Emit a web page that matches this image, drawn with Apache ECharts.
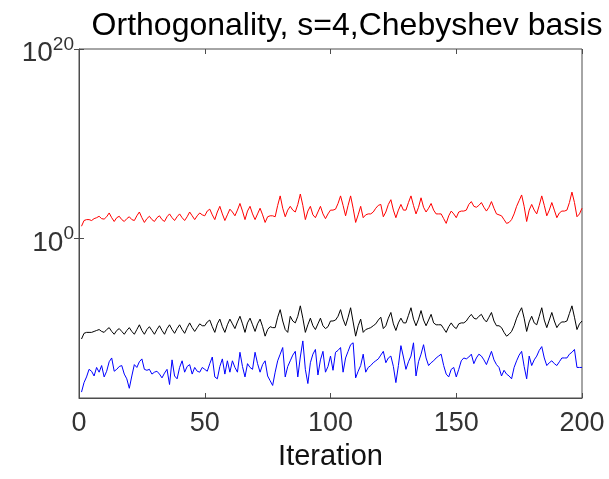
<!DOCTYPE html>
<html>
<head>
<meta charset="utf-8">
<script src="https://cdn.jsdelivr.net/npm/echarts@6/dist/echarts.min.js"></script>
<style>
html,body{margin:0;padding:0;background:#fff;}
#chart{width:609px;height:479px;}
</style>
</head>
<body>
<div id="chart"></div>
<script>
// Chart text
const titleText = 'Orthogonality, s=4,Chebyshev basis';
const xAxisName = 'Iteration';
const xTicks = [0, 50, 100, 150, 200];
const yTickExponents = [0, 20];

// Series values, stored as log10 of the plotted value
const redLog10 = [
 1.3, 1.9, 2.0, 2.0, 1.9, 2.1, 2.2, 2.35, 2.1, 2.05,
 2.3, 2.7, 2.2, 1.8, 2.2, 2.35, 2.0, 1.8, 2.1, 2.3,
 2.0, 1.9, 2.4, 2.8, 2.2, 1.7, 2.1, 2.35, 2.0, 1.8,
 2.2, 2.4, 2.0, 1.8, 2.3, 2.6, 2.2, 1.9, 2.3, 2.6,
 2.2, 1.9, 2.3, 2.8, 2.4, 2.0, 2.4, 2.7, 2.5, 2.4,
 2.9, 3.1, 2.5, 2.0, 2.8, 3.4, 2.6, 1.9, 2.5, 3.1,
 2.8, 2.4, 3.0, 3.7, 2.9, 2.0, 2.9, 3.4, 2.6, 2.0,
 2.6, 3.2, 2.5, 1.7, 2.3, 2.4, 2.4, 2.3, 3.5, 4.5,
 3.2, 2.3, 3.0, 3.4, 3.0, 2.8, 3.6, 4.7, 3.5, 2.0,
 2.9, 3.4, 2.5, 2.2, 2.8, 3.4, 2.6, 2.1, 2.6, 3.0,
 3.0, 3.1, 3.7, 4.5, 3.5, 2.4, 3.5, 4.5, 3.2, 1.7,
 2.5, 3.4, 2.2, 2.5, 2.6, 2.6, 2.8, 3.2, 3.5, 3.6,
 2.3, 2.8, 3.6, 4.1, 3.0, 2.2, 3.0, 3.6, 3.0, 3.0,
 3.8, 4.5, 3.5, 2.6, 3.3, 4.3, 3.3, 2.8, 3.2, 3.7,
 3.0, 2.6, 2.6, 2.6, 2.1, 1.6, 2.4, 2.9, 2.6, 2.2,
 2.8, 2.9, 2.9, 3.0, 3.6, 3.9, 3.4, 3.3, 3.5, 3.8,
 3.3, 2.9, 3.3, 3.9, 3.2, 2.6, 2.5, 2.4, 2.0, 1.6,
 1.7, 2.0, 2.6, 3.4, 4.0, 4.6, 3.4, 1.8, 3.0, 3.6,
 3.0, 2.6, 3.5, 4.5, 3.5, 2.4, 3.0, 3.8, 3.0, 2.2,
 2.7, 2.9, 2.9, 3.0, 3.8, 4.9, 3.8, 2.3, 2.6, 3.2
];
const blackLog10 = [
 -10.6, -10.0, -9.9, -9.9, -9.9, -9.8, -9.7, -9.6, -9.8, -9.9,
 -9.6, -9.4, -9.8, -10.1, -9.7, -9.5, -9.8, -10.1, -9.7, -9.4,
 -9.8, -10.1, -9.6, -9.1, -9.7, -10.1, -9.6, -9.3, -9.7, -10.1,
 -9.6, -9.2, -9.7, -10.1, -9.5, -9.1, -9.6, -10.0, -9.5, -9.1,
 -9.6, -10.0, -9.4, -8.9, -9.4, -9.8, -9.4, -9.0, -9.2, -9.2,
 -8.8, -8.6, -9.3, -9.9, -9.0, -8.5, -9.3, -9.9, -9.1, -8.5,
 -9.0, -9.5, -8.8, -8.2, -9.0, -9.9, -8.9, -8.4, -9.1, -9.8,
 -9.0, -8.5, -9.3, -10.3, -9.6, -9.3, -9.4, -9.4, -8.3, -7.5,
 -8.7, -9.6, -9.9, -8.2, -8.7, -8.9, -8.2, -7.1, -8.4, -9.9,
 -9.1, -8.4, -9.2, -9.6, -9.0, -8.4, -9.2, -9.5, -9.3, -8.7,
 -8.7, -8.6, -8.2, -7.5, -8.5, -9.2, -8.3, -7.3, -8.8, -10.3,
 -9.2, -8.5, -9.9, -9.6, -9.5, -9.4, -9.2, -9.0, -8.6, -8.3,
 -9.5, -9.2, -8.4, -7.8, -9.0, -9.7, -8.9, -8.4, -8.9, -8.9,
 -8.1, -7.3, -8.5, -9.2, -8.5, -7.6, -8.6, -9.2, -8.6, -8.0,
 -8.9, -9.1, -9.1, -9.1, -9.5, -9.9, -9.3, -8.9, -9.3, -9.5,
 -9.0, -8.9, -8.9, -8.7, -8.3, -8.0, -8.4, -8.5, -8.2, -8.0,
 -8.5, -8.8, -8.3, -7.8, -8.7, -9.2, -9.2, -9.4, -9.9, -10.3,
 -10.1, -9.8, -9.2, -8.4, -7.8, -7.3, -8.4, -9.8, -8.8, -8.2,
 -8.9, -9.1, -8.2, -7.3, -8.6, -9.4, -8.6, -7.8, -8.7, -9.4,
 -9.0, -8.8, -8.8, -8.7, -7.9, -7.1, -8.3, -9.6, -9.0, -8.7
];
const blueLog10 = [
 -16.2, -15.2, -14.6, -13.8, -14.0, -14.5, -13.6, -14.1, -13.4, -14.6,
 -14.0, -13.0, -12.6, -14.0, -13.8, -13.5, -13.4, -14.3, -14.8, -15.8,
 -14.5, -13.3, -13.6, -13.0, -12.7, -13.8, -13.9, -13.8, -14.3, -14.1,
 -14.0, -14.3, -14.7, -14.2, -13.8, -15.4, -12.8, -14.5, -14.8, -13.6,
 -12.9, -14.1, -13.5, -13.3, -14.3, -13.6, -14.0, -14.1, -13.6, -13.8,
 -14.0, -13.2, -12.5, -14.6, -14.8, -13.5, -12.7, -14.3, -12.9, -14.1,
 -12.9, -13.6, -14.1, -12.0, -13.5, -14.6, -13.2, -13.6, -13.8, -12.0,
 -13.2, -14.1, -13.3, -12.9, -14.5, -15.0, -15.5, -14.1, -12.9, -12.2,
 -11.5, -14.6, -13.5, -12.9, -12.3, -11.9, -14.6, -12.5, -10.8, -13.8,
 -15.3, -13.1, -12.2, -11.7, -14.4, -12.8, -11.9, -14.1, -13.5, -12.4,
 -13.9, -12.0, -11.8, -11.5, -14.1, -12.6, -11.9, -11.2, -11.0, -14.7,
 -14.0, -13.4, -12.2, -14.1, -13.6, -13.4, -13.1, -12.9, -12.7, -12.3,
 -11.9, -13.1, -12.6, -12.4, -13.5, -15.2, -13.4, -11.3, -12.5, -13.8,
 -13.0, -12.4, -11.0, -14.5, -13.0, -12.2, -11.2, -12.6, -13.4, -13.1,
 -12.9, -12.6, -12.4, -12.2, -13.4, -14.3, -14.6, -13.8, -13.6, -14.6,
 -13.8, -12.9, -12.6, -12.7, -12.5, -12.2, -13.2, -12.6, -12.2, -12.4,
 -12.8, -13.3, -12.6, -11.9, -12.8, -13.3, -13.6, -14.5, -13.9, -14.3,
 -14.5, -14.8, -13.6, -12.9, -12.3, -11.9, -13.5, -14.8, -12.4, -13.4,
 -12.8, -12.4, -11.8, -11.4, -12.6, -13.4, -13.1, -12.9, -13.2, -13.4,
 -13.0, -12.6, -12.6, -12.6, -12.2, -12.0, -11.7, -13.6, -13.6, -13.6
];

const yMin = 1.5e-17;
const yMax = 1e20;

function toPoints(logs) {
  return logs.map((e, i) => [i + 1, Math.pow(10, e)]);
}

const axisColor = '#4d4d4d';
const labelColor = '#333333';
const fontFamily = '"Liberation Sans", Arial, Helvetica, sans-serif';
const yTickValues = yTickExponents.map(e => Math.pow(10, e));

const yLabel = {
  show: true,
  customValues: yTickValues,
  margin: 5,
  formatter: function (v) {
    const e = Math.round(Math.log10(v));
    return '{b|10}{s|' + e + '}';
  },
  rich: {
    b: { fontSize: 28, lineHeight: 28, color: labelColor, fontFamily: fontFamily, padding: [9, 0, 0, 0] },
    s: { fontSize: 19, lineHeight: 19, color: labelColor, fontFamily: fontFamily, verticalAlign: 'top' }
  }
};

const chart = echarts.init(document.getElementById('chart'), null, { renderer: 'canvas' });
chart.setOption({
  animation: false,
  backgroundColor: '#ffffff',
  title: {
    text: titleText,
    left: 342,
    textAlign: 'center',
    top: 5,
    textStyle: { fontSize: 32, fontWeight: 'normal', color: '#000000', fontFamily: fontFamily }
  },
  grid: {
    left: 79, right: 27, top: 49, bottom: 81,
    show: true, borderColor: axisColor, borderWidth: 1, backgroundColor: 'transparent'
  },
  xAxis: [{
    type: 'value', min: 0, max: 200, interval: 50, position: 'bottom',
    name: xAxisName, nameLocation: 'middle', nameGap: 44,
    nameTextStyle: { fontSize: 29, color: '#111111', fontFamily: fontFamily },
    axisLine: { show: true, lineStyle: { color: axisColor } },
    axisTick: { show: true, inside: true, length: 5, customValues: xTicks, lineStyle: { color: axisColor } },
    axisLabel: { show: true, customValues: xTicks, fontSize: 27, color: labelColor, fontFamily: fontFamily, margin: 12 },
    splitLine: { show: false }
  }, {
    type: 'value', min: 0, max: 200, interval: 50, position: 'top',
    axisLine: { show: false },
    axisTick: { show: true, inside: true, length: 5, lineStyle: { color: axisColor } },
    axisLabel: { show: false },
    splitLine: { show: false }
  }],
  yAxis: [{
    type: 'log', logBase: 10, min: yMin, max: yMax, position: 'left',
    axisLine: { show: true, lineStyle: { color: axisColor } },
    axisTick: { show: true, inside: true, length: 5, customValues: yTickValues, lineStyle: { color: axisColor } },
    axisLabel: yLabel,
    splitLine: { show: false },
    minorTick: { show: false }
  }, {
    type: 'log', logBase: 10, min: yMin, max: yMax, position: 'right',
    axisLine: { show: false },
    axisTick: { show: true, inside: true, length: 5, customValues: yTickValues, lineStyle: { color: axisColor } },
    axisLabel: { show: false },
    splitLine: { show: false }
  }],
  series: [
    { name: 'red', type: 'line', data: toPoints(redLog10), showSymbol: false, symbol: 'none',
      lineStyle: { color: '#ff0000', width: 1 }, itemStyle: { color: '#ff0000' } },
    { name: 'black', type: 'line', data: toPoints(blackLog10), showSymbol: false, symbol: 'none',
      lineStyle: { color: '#000000', width: 1 }, itemStyle: { color: '#000000' } },
    { name: 'blue', type: 'line', data: toPoints(blueLog10), showSymbol: false, symbol: 'none',
      lineStyle: { color: '#0000ff', width: 1 }, itemStyle: { color: '#0000ff' } }
  ]
});
</script>
</body>
</html>
